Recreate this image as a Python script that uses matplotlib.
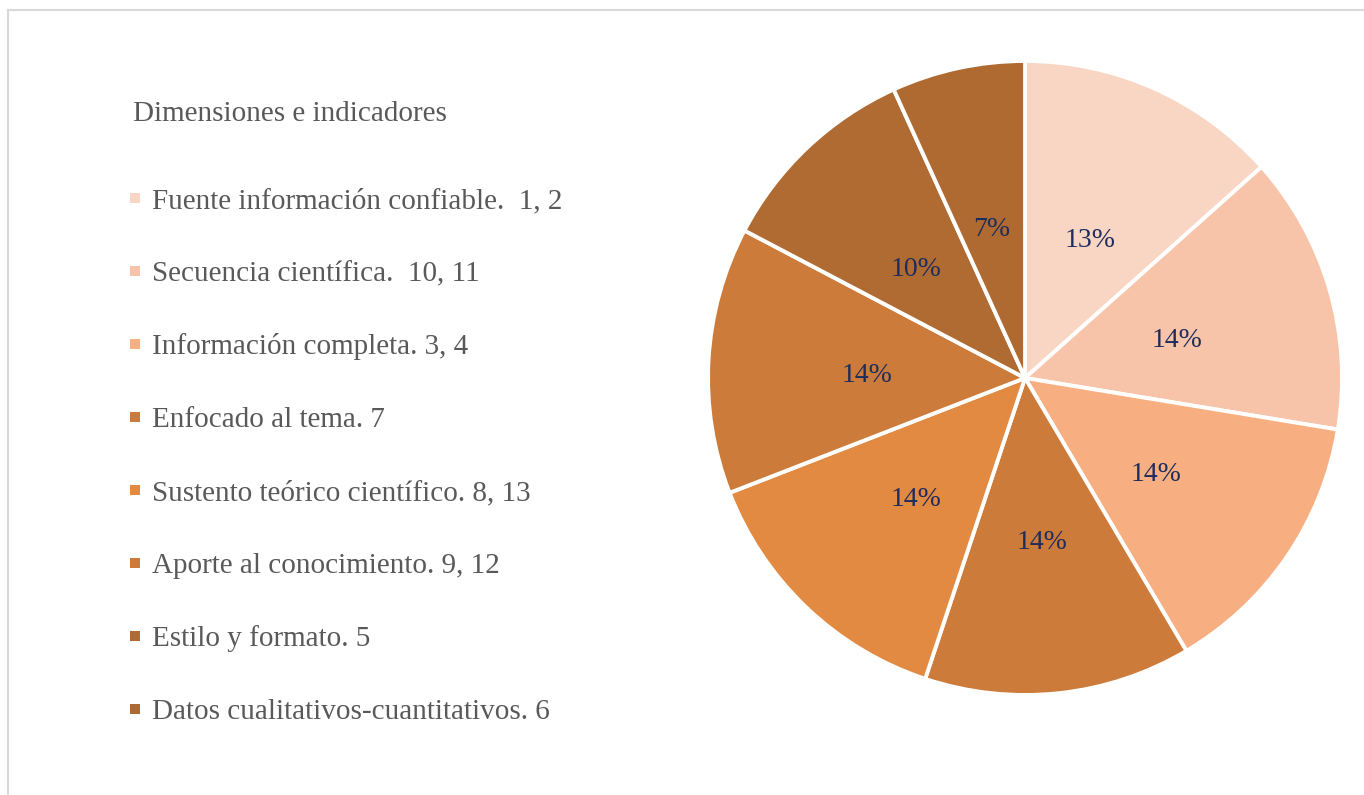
import matplotlib.pyplot as plt
from matplotlib.patches import Rectangle

labels = [
    "Fuente información confiable.  1, 2",
    "Secuencia científica.  10, 11",
    "Información completa. 3, 4",
    "Enfocado al tema. 7",
    "Sustento teórico científico. 8, 13",
    "Aporte al conocimiento. 9, 12",
    "Estilo y formato. 5",
    "Datos cualitativos-cuantitativos. 6",
]
# shares (labels shown rounded)
values = [13.4, 14.2, 13.9, 13.6, 14.0, 13.6, 10.5, 6.8]
colors = ["#F9D6C4", "#F8C4A9", "#F7AF82", "#CD7B3A",
          "#E28A41", "#CC7B3A", "#B06B32", "#AE6A30"]
legend_title = "Dimensiones e indicadores"

plt.rcParams['font.family'] = ['Liberation Serif', 'DejaVu Serif']

fig = plt.figure(figsize=(13.64, 7.95), dpi=100)

# light grey frame of the chart area
fig.patches.append(Rectangle((8 / 1364, -0.1), 1.2, 0.1 + (795 - 10) / 795,
                             transform=fig.transFigure, fill=False,
                             edgecolor="#D9D9D9", linewidth=1.5))

ax = fig.add_axes([0.5191, 0.1258, 0.4648, 0.7975])
wedges, texts, autotexts = ax.pie(
    values, colors=colors, startangle=90, counterclock=False,
    autopct="%1.0f%%", pctdistance=0.5, radius=1,
    wedgeprops=dict(edgecolor="white", linewidth=2.8),
    textprops=dict(color="#1F2D5C", fontsize=20))
for t in autotexts:
    t.set_va("center_baseline")
    t.set_y(t.get_position()[1] - 0.012)
ax.set_xlim(-1, 1)
ax.set_ylim(-1, 1)
ax.set_aspect("auto")
ax.axis("off")

# legend drawn by hand to match spacing
fig.text(133 / 1364, 1 - 111 / 795, legend_title, fontsize=21,
         color="#595959", va="center_baseline", ha="left")
y0, dy = 198, 73
for i, (lab, col) in enumerate(zip(labels, colors)):
    y = y0 + i * dy
    fig.patches.append(Rectangle((130 / 1364, 1 - (y + 5) / 795), 10 / 1364, 10 / 795,
                                 transform=fig.transFigure, facecolor=col,
                                 edgecolor="none"))
    fig.text(152 / 1364, 1 - y / 795, lab, fontsize=21, color="#595959",
             va="center_baseline", ha="left")

fig.savefig("out.png", dpi=100)
